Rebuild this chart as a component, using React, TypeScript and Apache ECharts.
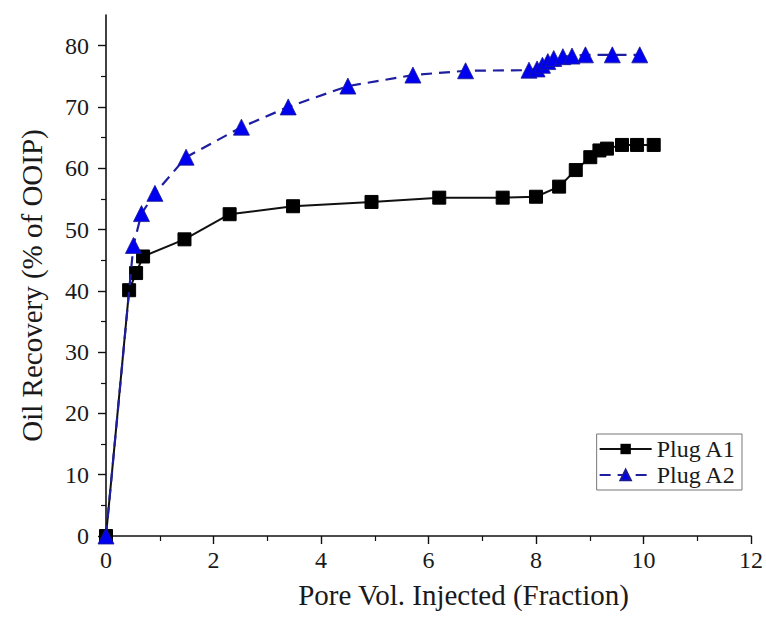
import React, { useEffect, useRef } from "react";
import * as echarts from "echarts";

const a1X = [0, 0.43, 0.56, 0.69, 1.46, 2.3, 3.48, 4.94, 6.2, 7.38, 8.0, 8.43, 8.74, 9.01, 9.18, 9.32, 9.6, 9.88, 10.19];
const a1Y = [0, 40.1, 42.9, 45.6, 48.4, 52.5, 53.8, 54.5, 55.2, 55.2, 55.35, 57.0, 59.7, 61.8, 62.9, 63.2, 63.8, 63.8, 63.8];

const a2X = [0, 0.51, 0.66, 0.91, 1.49, 2.52, 3.39, 4.5, 5.71, 6.69, 7.87, 8.02, 8.12, 8.22, 8.33, 8.5, 8.67, 8.92, 9.42, 9.93];
const a2Y = [0, 47.4, 52.6, 55.9, 61.8, 66.7, 70.0, 73.4, 75.2, 75.9, 76.0, 76.2, 76.8, 77.4, 77.9, 78.2, 78.3, 78.5, 78.5, 78.5];

const xTicks = [0, 2, 4, 6, 8, 10, 12];
const yTicks = [0, 10, 20, 30, 40, 50, 60, 70, 80];

const seriesNames = ["Plug A1", "Plug A2"];
const xTitle = "Pore Vol. Injected (Fraction)";
const yTitle = "Oil Recovery (% of OOIP)";

const FONT = "Liberation Serif";

export default function App() {
  const ref = useRef<HTMLDivElement>(null);
  useEffect(() => {
    if (!ref.current) return;
    const chart = echarts.init(ref.current, undefined, { renderer: "svg" });
    const axisCommon = {
      axisLine: { show: true, lineStyle: { color: "#111", width: 1.6 } },
      axisTick: { show: true, inside: false, length: 8, lineStyle: { color: "#111", width: 1.4 } },
      minorTick: { show: true, splitNumber: 2, length: 5, lineStyle: { color: "#111", width: 1.2 } },
      splitLine: { show: false },
      minorSplitLine: { show: false },
      nameLocation: "middle" as const,
    };
    chart.setOption({
      animation: false,
      backgroundColor: "#fff",
      grid: { left: 106, right: 14, top: 15, bottom: 83, containLabel: false },
      xAxis: {
        type: "value",
        min: 0,
        max: 12,
        interval: 2,
        ...axisCommon,
        name: xTitle,
        nameGap: 44,
        nameTextStyle: { fontFamily: FONT, fontSize: 29, color: "#1a1a1a", padding: [0, 0, 0, 70] },
        axisLabel: {
          fontFamily: FONT,
          fontSize: 24,
          color: "#1a1a1a",
          margin: 12,
          customValues: xTicks,
        },
      },
      yAxis: {
        type: "value",
        min: 0,
        max: 85,
        interval: 10,
        ...axisCommon,
        axisTick: { ...axisCommon.axisTick, customValues: yTicks },
        name: yTitle,
        nameGap: 60,
        nameTextStyle: { fontFamily: FONT, fontSize: 29, color: "#1a1a1a", padding: [0, 20, 0, 0] },
        axisLabel: {
          fontFamily: FONT,
          fontSize: 24,
          color: "#1a1a1a",
          margin: 17,
          customValues: yTicks,
        },
      },
      legend: {
        show: true,
        orient: "vertical",
        right: 24,
        top: 434,
        itemWidth: 52,
        itemHeight: 13,
        itemGap: 2,
        padding: [3, 6, 3, 2],
        borderColor: "#777",
        borderWidth: 1,
        backgroundColor: "#fff",
        textStyle: { fontFamily: FONT, fontSize: 24, color: "#1a1a1a" },
        data: seriesNames,
      },
      series: [
        {
          name: seriesNames[0],
          type: "line",
          data: a1X.map((x, i) => [x, a1Y[i]]),
          symbol: "rect",
          symbolSize: 13,
          itemStyle: { color: "#000", borderColor: "#000" },
          lineStyle: { color: "#111", width: 2, type: "solid" },
          z: 2,
        },
        {
          name: seriesNames[1],
          type: "line",
          data: a2X.map((x, i) => [x, a2Y[i]]),
          symbol: "triangle",
          symbolSize: 16,
          itemStyle: { color: "#0000f0", borderColor: "#1a1a90", borderWidth: 0.8 },
          lineStyle: { color: "#1e1ea0", width: 2.2, type: [11, 7] },
          z: 3,
        },
      ],
    });
    return () => chart.dispose();
  }, []);
  return <div ref={ref} style={{ width: 766, height: 619, position: "absolute", left: 0, top: 0 }} />;
}
